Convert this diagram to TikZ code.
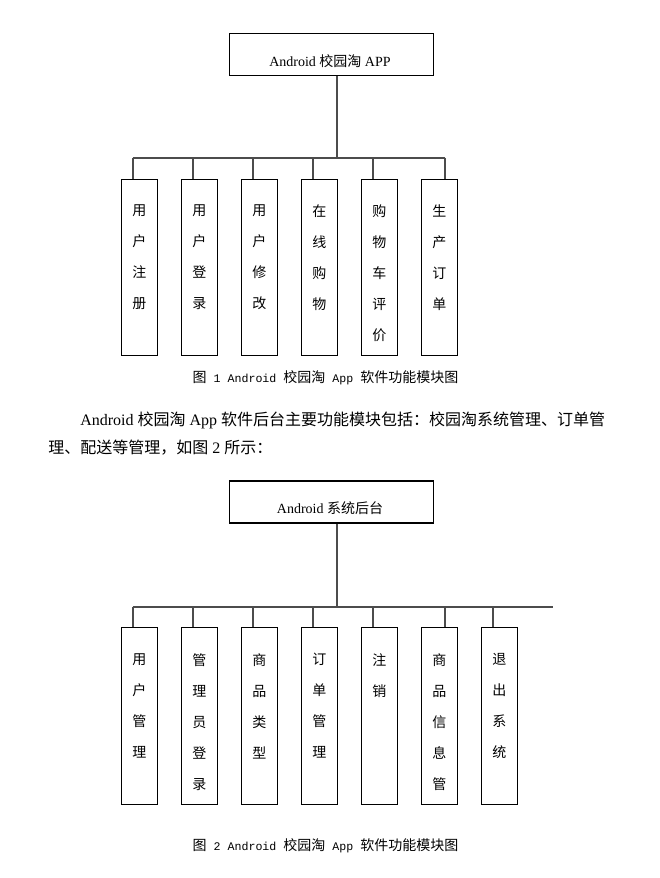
\documentclass[tikz,border=0pt]{standalone}
\usepackage{fontspec}
\setmainfont{Liberation Serif}
\newfontfamily\cjk{Noto Sans CJK SC}
\newfontfamily\mono[Scale=0.83]{Liberation Mono}
\begin{document}
\begin{tikzpicture}[x=0.75pt,y=-0.75pt,
 box/.style={draw, line width=0.8pt, inner sep=0, minimum width=27pt},
 topbox/.style={draw, line width=0.8pt, minimum width=153pt, minimum height=31.5pt, inner sep=0},
 chars/.style={anchor=north, inner sep=0, align=center, font=\cjk\fontsize{10.5}{23.25}\selectfont},
 wire/.style={line width=1.5pt, draw=black!70},
 lbl/.style={inner sep=0, font=\fontsize{10.5}{12}\selectfont},
 para/.style={anchor=west, inner sep=0, font=\fontsize{12}{14}\selectfont},
 figcap/.style={inner sep=0, font=\fontsize{10.5}{12}\selectfont}]
\useasboundingbox[fill=white] (0,0) rectangle (660,878);

% ---------- Figure 1 ----------
\node[topbox] (app) at (331.3,54.3) {};
\node[lbl] (applbl) at (330,61.5) {Android {\cjk 校园淘} APP};
\coordinate (j1) at (337,157.7);
\coordinate (bus1L) at (132.7,157.7);
\coordinate (bus1R) at (445,157.7);
\draw[wire] (j1 |- app.south) -- (j1);
\draw[wire] (bus1L) -- (bus1R);
\foreach \i/\cx/\dx/\txt in {
  1/139.3/132.7/{用\\户\\注\\册},
  2/199.3/192.7/{用\\户\\登\\录},
  3/259.3/252.7/{用\\户\\修\\改},
  4/319.3/312.7/{在\\线\\购\\物},
  5/379.3/372.7/{购\\物\\车\\评\\价},
  6/439.3/445/{生\\产\\订\\单}}{
  \node[box, minimum height=131.8pt] (a\i) at (\cx,267.2) {};
  \node[chars] (at\i) at (\cx,204.7) {\txt};
  \coordinate (ad\i) at (\dx,157.7);
  \draw[wire] (ad\i) -- (ad\i |- a\i.north);
}
\node[figcap] (cap1) at (325.5,378) {{\cjk 图}{\mono\ 1 Android }{\cjk 校园淘}{\mono\ App }{\cjk 软件功能模块图}};

% ---------- Paragraph ----------
\node[para] (par1) at (80,420.5) {Android {\cjk 校园淘} App {\cjk 软件后台主要功能模块包括：校园淘系统管理、订单管}};
\node[para] (par2) at (48,448) {{\cjk 理、配送等管理，如图} 2 {\cjk 所示：}};

% ---------- Figure 2 ----------
\node[topbox] (sys) at (331.3,502) {};
\node[lbl] (syslbl) at (330,508) {Android {\cjk 系统后台}};
\coordinate (j2) at (337,606.7);
\coordinate (bus2L) at (132.7,606.7);
\coordinate (bus2R) at (553,606.7);
\draw[wire] (j2 |- sys.south) -- (j2);
\draw[wire] (bus2L) -- (bus2R);
\foreach \i/\cx/\dx/\txt in {
  1/139.3/132.7/{用\\户\\管\\理},
  2/199.3/192.7/{管\\理\\员\\登\\录},
  3/259.3/252.7/{商\\品\\类\\型},
  4/319.3/312.7/{订\\单\\管\\理},
  5/379.3/372.7/{注\\销},
  6/439.3/445/{商\\品\\信\\息\\管},
  7/499.3/492.7/{退\\出\\系\\统}}{
  \node[box, minimum height=132.8pt] (b\i) at (\cx,715.8) {};
  \node[chars] (bt\i) at (\cx,653) {\txt};
  \coordinate (bd\i) at (\dx,606.7);
  \draw[wire] (bd\i) -- (bd\i |- b\i.north);
}
\node[figcap] (cap2) at (325.5,846) {{\cjk 图}{\mono\ 2 Android }{\cjk 校园淘}{\mono\ App }{\cjk 软件功能模块图}};
\end{tikzpicture}
\end{document}
